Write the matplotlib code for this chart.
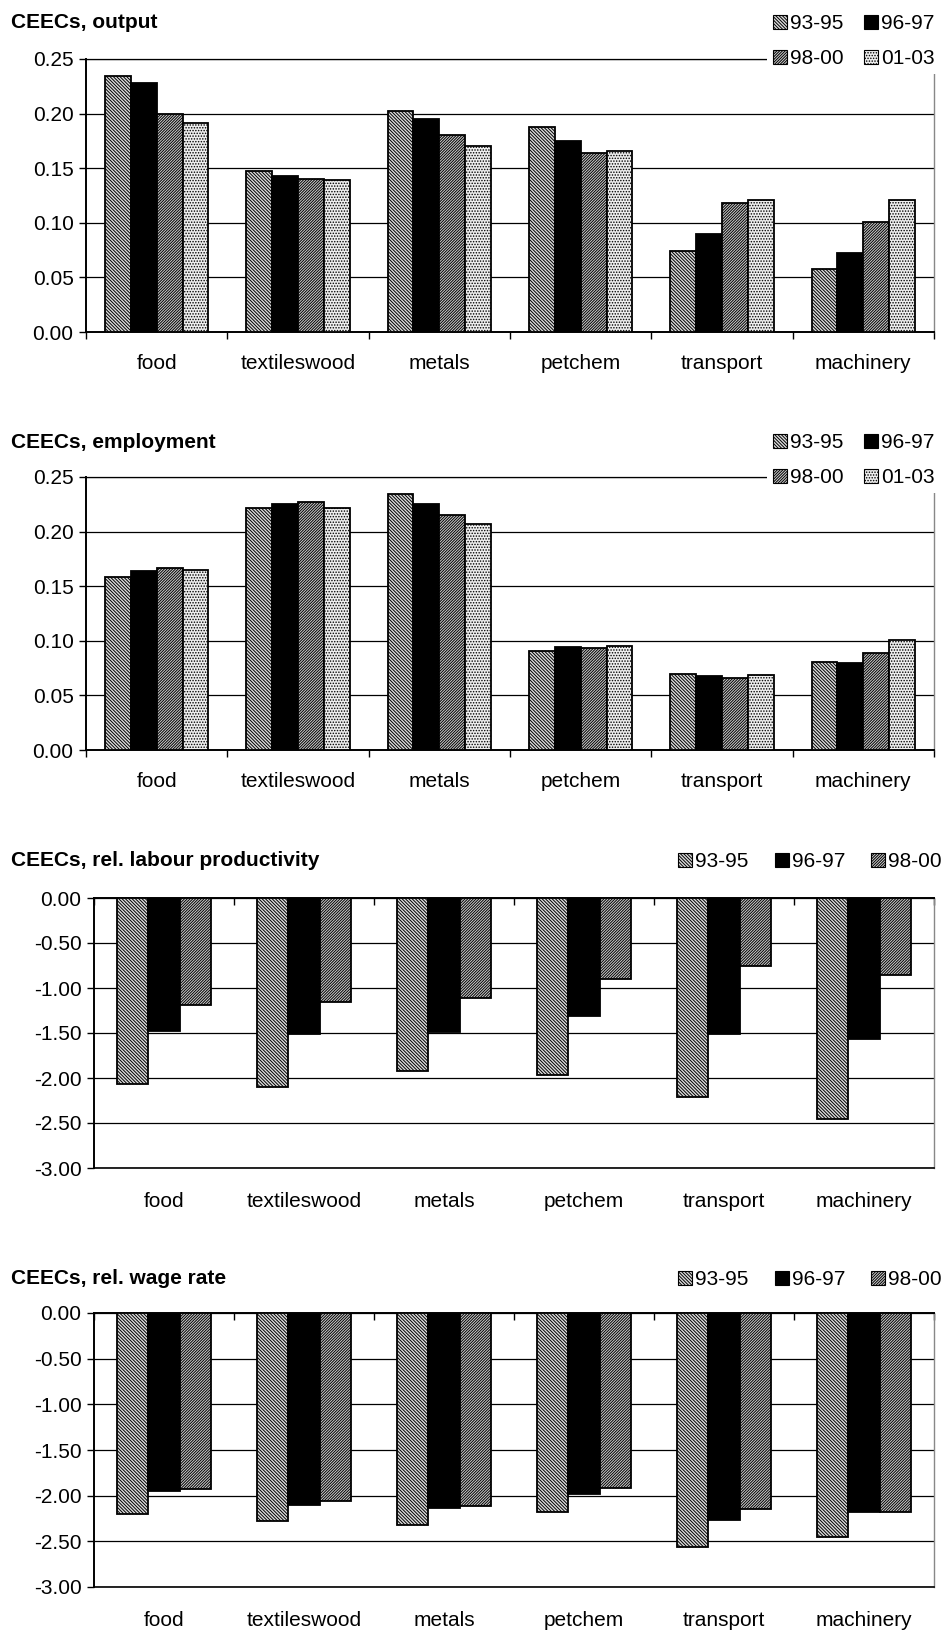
import matplotlib
matplotlib.use("Agg")
import matplotlib.pyplot as plt
import numpy as np
from matplotlib.patches import Patch
from matplotlib.ticker import FormatStrFormatter

plt.rcParams['font.family'] = ['Liberation Sans', 'DejaVu Sans']
plt.rcParams['font.size'] = 15
plt.rcParams['axes.unicode_minus'] = False
plt.rcParams['hatch.linewidth'] = 0.7

sectors = ['food', 'textileswood', 'metals', 'petchem', 'transport', 'machinery']
periods = ['93-95', '96-97', '98-00', '01-03']

output_9395 = [0.234, 0.147, 0.202, 0.188, 0.074, 0.058]
output_9697 = [0.228, 0.143, 0.195, 0.175, 0.090, 0.072]
output_9800 = [0.200, 0.140, 0.180, 0.164, 0.118, 0.101]
output_0103 = [0.191, 0.139, 0.170, 0.166, 0.121, 0.121]

employ_9395 = [0.158, 0.222, 0.234, 0.091, 0.070, 0.081]
employ_9697 = [0.164, 0.225, 0.225, 0.094, 0.068, 0.080]
employ_9800 = [0.167, 0.227, 0.215, 0.093, 0.066, 0.089]
employ_0103 = [0.165, 0.222, 0.207, 0.095, 0.069, 0.101]

prod_9395 = [-2.07, -2.10, -1.92, -1.97, -2.21, -2.45]
prod_9697 = [-1.48, -1.51, -1.49, -1.31, -1.51, -1.57]
prod_9800 = [-1.19, -1.15, -1.11, -0.90, -0.75, -0.85]

wage_9395 = [-2.20, -2.28, -2.32, -2.18, -2.56, -2.45]
wage_9697 = [-1.95, -2.10, -2.13, -1.98, -2.27, -2.18]
wage_9800 = [-1.93, -2.06, -2.11, -1.92, -2.15, -2.18]

styles = {
    '93-95': dict(facecolor='#dcdcdc', hatch='\\' * 10),
    '96-97': dict(facecolor='black', hatch=None),
    '98-00': dict(facecolor='#cfcfcf', hatch='/' * 12),
    '01-03': dict(facecolor='#eeeeee', hatch='.' * 6),
}

W, H = 946, 1630
fig = plt.figure(figsize=(W / 100, H / 100), dpi=100)


def add_panel(left, top, right, bottom, title, title_y, series, ylim, yticks,
              negative, leg_right, leg_top, leg_ncol, colspacing):
    ax = fig.add_axes([left / W, 1 - bottom / H, (right - left) / W, (bottom - top) / H])
    n = len(series)
    x = np.arange(len(sectors))
    width = 0.183 if n == 4 else 0.226
    for i, (lab, vals) in enumerate(series):
        st = styles[lab]
        ax.bar(x + (i - (n - 1) / 2) * width, vals, width, facecolor=st['facecolor'],
               hatch=st['hatch'], edgecolor='black', linewidth=1.3, label=lab, zorder=3)
    ax.set_xlim(-0.5, len(sectors) - 0.5)
    ax.set_ylim(*ylim)
    ax.set_yticks(yticks)
    ax.yaxis.set_major_formatter(FormatStrFormatter('%.2f'))
    ax.grid(axis='y', color='black', linewidth=0.9)
    ax.set_axisbelow(True)
    ax.tick_params(axis='y', direction='out', length=5, width=1, pad=4)

    ax.set_xticks(np.arange(-0.5, len(sectors), 1))
    ax.set_xticks(x, minor=True)
    ax.set_xticklabels(sectors, minor=True)
    ax.set_xticklabels([])
    if negative:
        ax.tick_params(axis='x', which='major', bottom=False, top=True, direction='in',
                       length=5, width=1, labelbottom=False)
        ax.tick_params(axis='x', which='minor', bottom=True, length=0, pad=17)
        ax.spines['top'].set_linewidth(1.4)
        ax.spines['bottom'].set_linewidth(1.2)
    else:
        ax.tick_params(axis='x', which='major', direction='out', length=5, width=1)
        ax.tick_params(axis='x', which='minor', length=0, pad=16)
        ax.spines['top'].set_linewidth(0.9)
        ax.spines['bottom'].set_linewidth(1.4)
    ax.spines['left'].set_linewidth(1.4)
    ax.spines['right'].set_color('#888888')
    ax.spines['right'].set_linewidth(1.0)

    fig.text(11 / W, 1 - title_y / H, title, fontweight='bold', va='center', ha='left')

    # legend reads row by row in the reference
    if leg_ncol == 2:
        order = [0, 2, 1, 3]
    else:
        order = list(range(n))
    handles = [Patch(facecolor=styles[series[k][0]]['facecolor'],
                     hatch=styles[series[k][0]]['hatch'],
                     edgecolor='black', linewidth=0.8) for k in order]
    labels = [series[k][0] for k in order]
    leg = ax.legend(handles, labels, loc='upper right', ncol=leg_ncol,
                    bbox_to_anchor=(leg_right / W, 1 - leg_top / H),
                    bbox_transform=fig.transFigure, frameon=True, fancybox=False,
                    framealpha=1, facecolor='white', edgecolor='none',
                    handlelength=0.65, handleheight=0.65, handletextpad=0.15,
                    columnspacing=colspacing, labelspacing=0.75, borderpad=0.3,
                    borderaxespad=0)
    leg.set_zorder(10)
    return ax


add_panel(86, 59, 934, 332, 'CEECs, output', 23,
          [('93-95', output_9395), ('96-97', output_9697),
           ('98-00', output_9800), ('01-03', output_0103)],
          (0, 0.25), np.arange(0, 0.2501, 0.05), False, 941, 8, 2, 1.0)

add_panel(86, 477, 934, 750, 'CEECs, employment', 442,
          [('93-95', employ_9395), ('96-97', employ_9697),
           ('98-00', employ_9800), ('01-03', employ_0103)],
          (0, 0.25), np.arange(0, 0.2501, 0.05), False, 941, 427, 2, 1.0)

add_panel(94, 898, 934, 1168, 'CEECs, rel. labour productivity', 861,
          [('93-95', prod_9395), ('96-97', prod_9697), ('98-00', prod_9800)],
          (-3, 0), np.arange(-3, 0.001, 0.5), True, 948, 846, 3, 1.27)

add_panel(94, 1313, 934, 1587, 'CEECs, rel. wage rate', 1279,
          [('93-95', wage_9395), ('96-97', wage_9697), ('98-00', wage_9800)],
          (-3, 0), np.arange(-3, 0.001, 0.5), True, 948, 1264, 3, 1.27)

fig.savefig('out.png', dpi=100)
